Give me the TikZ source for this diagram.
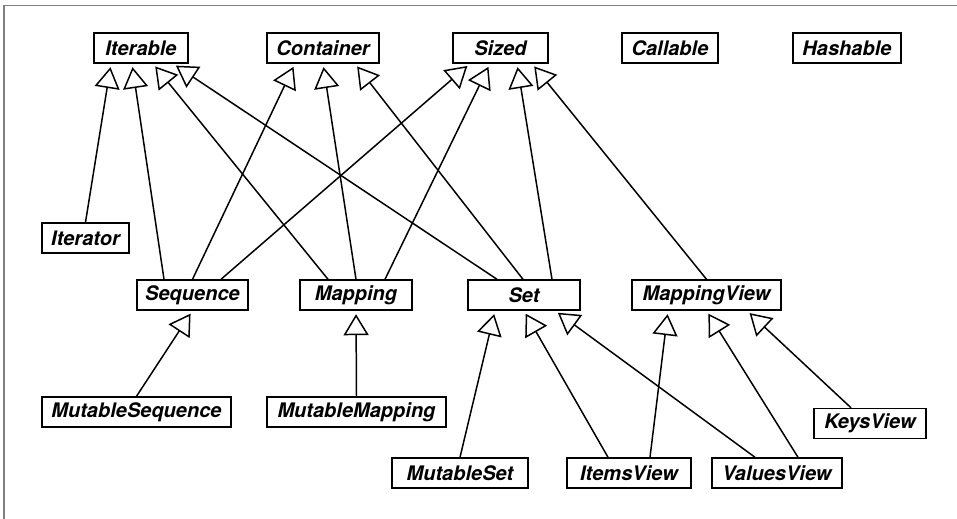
\documentclass[tikz,border=0pt]{standalone}
\usepackage{fontspec}
\setmainfont{TeX Gyre Heros}
\usetikzlibrary{arrows.meta}

\begin{document}
\begin{tikzpicture}[x=0.02cm, y=-0.02cm,
        abc/.style={rectangle, draw, line width=0.8pt, minimum height=0.6cm, inner sep=0pt, font=\fontsize{11.4}{13}\selectfont\bfseries\itshape},
        isa/.style={line width=0.85pt, -{Triangle[open, length=0.42cm, width=0.5cm]}, shorten >=2pt}
    ]
        \useasboundingbox (0,0) rectangle (957,519);
        \draw[gray, line width=0.6pt] (4,519) -- (4,5.5) -- (957,5.5);

        % top row
        \node[abc, minimum width=1.88cm] (iterable) at (141,48) {Iterable};
        \node[abc, minimum width=2.24cm] (container) at (323,48) {Container};
        \node[abc, minimum width=1.90cm] (sized) at (500.5,48) {Sized};
        \node[abc, minimum width=1.92cm] (callable) at (670,48) {Callable};
        \node[abc, minimum width=2.16cm] (hashable) at (847,48) {Hashable};

        % middle
        \node[abc, minimum width=1.74cm] (iterator) at (85.5,238) {Iterator};
        \node[abc, minimum width=2.22cm] (seq) at (192.5,295) {Sequence};
        \node[abc, minimum width=2.24cm] (mapping) at (356,295) {Mapping};
        \node[abc, minimum width=2.24cm] (set) at (524,295) {Set};
        \node[abc, minimum width=2.98cm] (mview) at (706.5,295) {MappingView};

        % bottom
        \node[abc, minimum width=3.78cm] (mutseq) at (136.5,412) {MutableSequence};
        \node[abc, minimum width=3.58cm] (mutmap) at (356.5,412) {MutableMapping};
        \node[abc, minimum width=2.72cm] (mutset) at (460,473) {MutableSet};
        \node[abc, minimum width=2.48cm] (items) at (629,473) {ItemsView};
        \node[abc, minimum width=2.60cm] (values) at (777,473) {ValuesView};
        \node[abc, minimum width=2.24cm] (keys) at (870,423.5) {KeysView};

        \draw[isa] (iterator.north) -- ([xshift=-0.6cm]iterable.south);
        \draw[isa] ([xshift=-0.57cm]seq.north) -- ([xshift=-0.18cm]iterable.south);
        \draw[isa] ([xshift=-0.56cm]mapping.north) -- ([xshift=0.24cm]iterable.south);
        \draw[isa] ([xshift=-0.54cm]set.north) -- ([xshift=0.64cm]iterable.south);
        \draw[isa] (seq.north) -- ([xshift=-0.56cm]container.south);
        \draw[isa] (mapping.north) -- (container.south);
        \draw[isa] ([xshift=-0.02cm]set.north) -- ([xshift=0.64cm]container.south);
        \draw[isa] ([xshift=0.57cm]seq.north) -- ([xshift=-0.61cm]sized.south);
        \draw[isa] ([xshift=0.58cm]mapping.north) -- ([xshift=-0.21cm]sized.south);
        \draw[isa] ([xshift=0.56cm]set.north) -- ([xshift=0.33cm]sized.south);
        \draw[isa] (mview.north) -- ([xshift=0.63cm]sized.south);

        \draw[isa] (mutseq.north) -- (seq.south);
        \draw[isa] (mutmap.north) -- (mapping.south);
        \draw[isa] (mutset.north) -- ([xshift=-0.58cm]set.south);
        \draw[isa] ([xshift=-0.42cm]items.north) -- (set.south);
        \draw[isa] ([xshift=-0.44cm]values.north) -- ([xshift=0.62cm]set.south);
        \draw[isa] ([xshift=0.42cm]items.north) -- ([xshift=-0.77cm]mview.south);
        \draw[isa] ([xshift=0.42cm]values.north) -- (mview.south);
        \draw[isa] ([xshift=-0.38cm]keys.north) -- ([xshift=0.81cm]mview.south);
    \end{tikzpicture}
\end{document}
